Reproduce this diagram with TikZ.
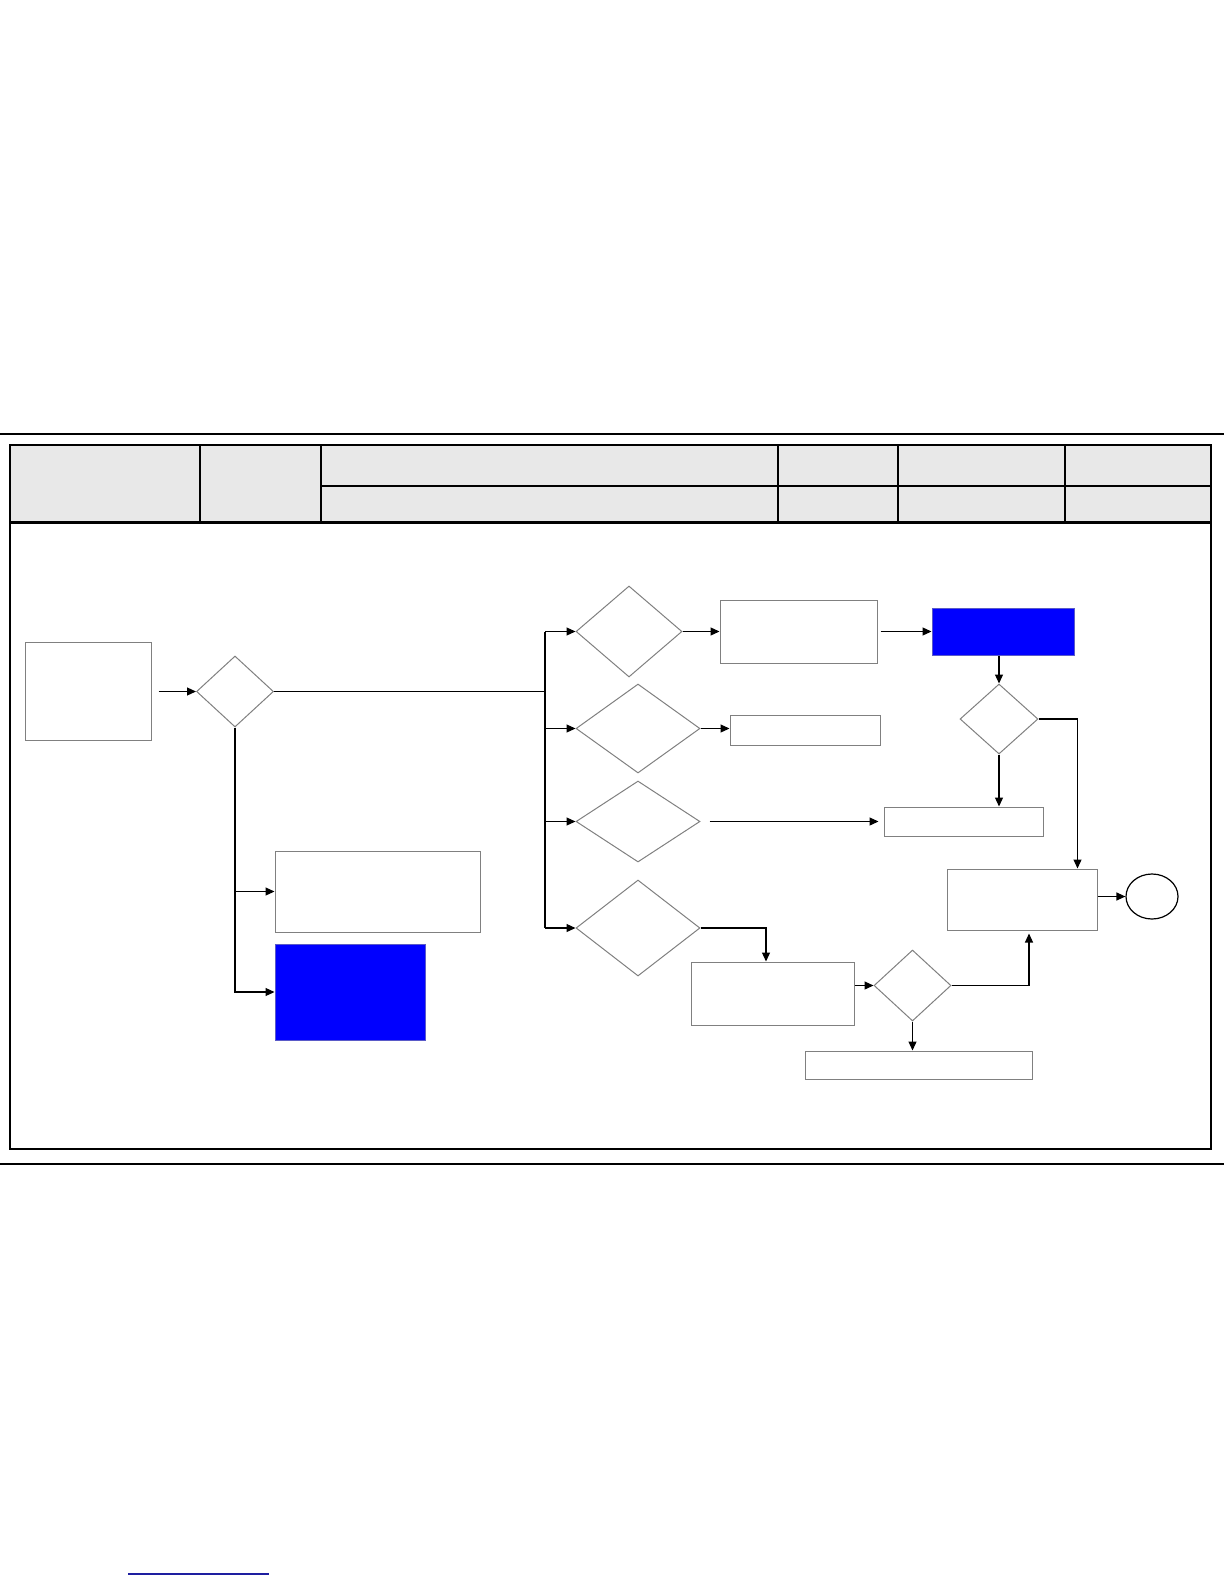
\documentclass[tikz,border=0pt]{standalone}
\usetikzlibrary{arrows.meta,shapes.geometric,calc}
\definecolor{hdrgray}{RGB}{232,232,232}
\definecolor{boxgray}{RGB}{128,128,128}
\definecolor{bluefill}{RGB}{0,0,255}
\definecolor{blueedge}{RGB}{90,90,200}
\definecolor{linkblue}{RGB}{30,30,160}
\tikzset{
  box/.style={draw=boxgray,line width=1pt,fill=white,inner sep=0pt},
  bluebox/.style={box,fill=bluefill,draw=blueedge},
  dia/.style={diamond,draw=boxgray,line width=1pt,fill=white,inner sep=0pt},
  endcirc/.style={ellipse,draw=black,line width=1.2pt,inner sep=0pt},
  conn/.style={line width=1.2pt,black},
  arr/.style={conn,-{Triangle[length=9pt,width=8pt]}},
  thick rule/.style={line width=2.5pt},
  thin rule/.style={line width=1.2pt}
}
\begin{document}
\begin{tikzpicture}[x=1pt,y=-1pt]
\useasboundingbox (0,0) rectangle (1224,1584);
% page rules
\draw[thin rule] (0,434) -- (1224,434);
\draw[thin rule] (0,1164) -- (1224,1164);
% header
\fill[hdrgray] (10,445) rectangle (1211,522);
\draw[thick rule] (10,445) -- (1211,445);
\draw[thin rule] (321,486) -- (1211,486);
\draw[line width=2pt] (200,445) -- (200,522);
\draw[line width=2pt] (321,445) -- (321,522);
\draw[line width=2pt] (778,445) -- (778,522);
\draw[thin rule] (898,445) -- (898,522);
\draw[line width=2pt] (1065,445) -- (1065,522);
\draw[line width=3pt] (10,522) -- (1211,522);
% frame
\draw[thick rule] (10,444) -- (10,1150);
\draw[thin rule] (1211,444) -- (1211,1150);
\draw[thick rule] (9,1149) -- (1212,1149);
% nodes
\node[box,minimum width=126pt,minimum height=98pt] (A) at (88.5,691.5) {};
\node[dia,minimum width=77pt,minimum height=71pt] (D1) at (235,691.5) {};
\node[box,minimum width=205pt,minimum height=81pt] (B) at (377.5,891.5) {};
\node[bluebox,minimum width=150pt,minimum height=96pt] (C) at (350,992) {};
\node[dia,minimum width=106pt,minimum height=91pt] (E1) at (629,631.5) {};
\node[box,minimum width=157pt,minimum height=63pt] (F1) at (798.5,631.5) {};
\node[bluebox,minimum width=142pt,minimum height=47pt] (G) at (1003,631.5) {};
\node[dia,minimum width=78pt,minimum height=70pt] (H) at (999,719) {};
\node[dia,minimum width=124pt,minimum height=89pt] (E2) at (638,728.5) {};
\node[box,minimum width=150pt,minimum height=30pt] (K) at (805,730) {};
\node[dia,minimum width=124pt,minimum height=81pt] (E3) at (638,821.5) {};
\node[box,minimum width=159pt,minimum height=29pt] (I) at (963.5,821.5) {};
\node[dia,minimum width=124pt,minimum height=96pt] (E4) at (638,928) {};
\node[box,minimum width=150pt,minimum height=61pt] (J) at (1022,899.5) {};
\node[endcirc,minimum width=52pt,minimum height=45pt] (O) at (1152,896.5) {};
\node[box,minimum width=163pt,minimum height=63pt] (L) at (772.5,993.5) {};
\node[dia,minimum width=77pt,minimum height=71pt] (M) at (912.5,985.5) {};
\node[box,minimum width=227pt,minimum height=28pt] (N) at (918.5,1065) {};
% bus
\coordinate (bt) at (545,631.5);
\coordinate (bb) at (545,928);
% connectors
\draw[arr,shorten <=6.5pt] (A.east) -- (D1.west);
\draw[conn] (D1.east) -- (D1.east -| bt);
\draw[conn] (bt) -- (bb);
\draw[arr] (bt) -- (E1.west);
\draw[arr] (E2.west -| bt) -- (E2.west);
\draw[arr] (E3.west -| bt) -- (E3.west);
\draw[arr] (bb) -- (E4.west);
\draw[arr] (D1.south) |- (C.west);
\draw[arr] (D1.south |- B.west) -- (B.west);
\draw[arr] (E1.east) -- (F1.west);
\draw[arr,shorten <=3pt] (F1.east) -- (G.west);
\draw[arr] (H.north |- G.south) -- (H.north);
\draw[arr] (H.south) -- (H.south |- I.north);
\draw[arr] (H.east) -| ([xshift=-20pt]J.north east);
\draw[arr] (O.west -| J.east) -- (O.west);
\draw[arr] (E2.east) -- (E2.east -| K.west);
\draw[arr,shorten <=9pt,shorten >=5pt] (E3.east) -- (I.west);
\draw[arr] (E4.east) -| ([xshift=-6.5pt]L.north);
\draw[arr] (L.east |- M.west) -- (M.west);
\draw[arr,shorten >=3pt] (M.east) -| ([xshift=7pt]J.south);
\draw[arr] (M.south) -- (M.south |- N.north);
% footer underline
\draw[linkblue,line width=1.2pt] (128,1574) -- (269,1574);
\end{tikzpicture}
\end{document}
